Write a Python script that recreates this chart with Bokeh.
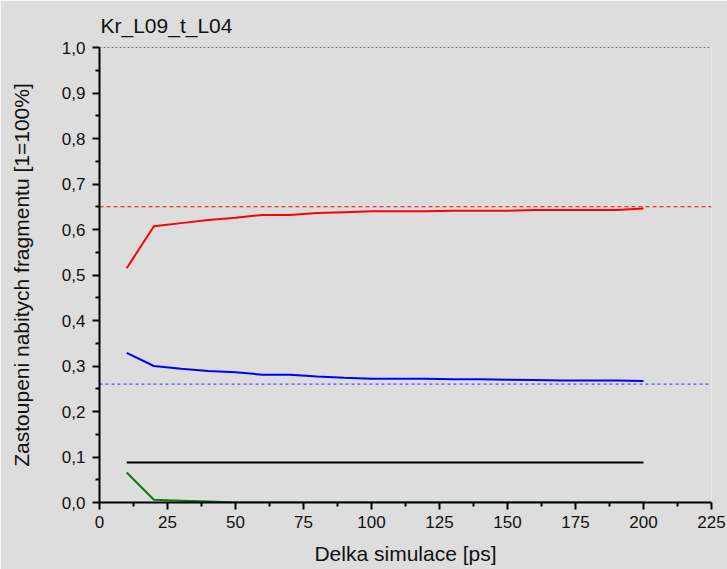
from bokeh.plotting import figure
from bokeh.models import Range1d, FixedTicker, CustomJSTickFormatter
from bokeh.embed import file_html
from bokeh.resources import INLINE

# ---- data ----
x_sim = [10, 20, 30, 40, 50, 60, 70, 80, 90, 100, 110, 120, 130, 140, 150, 160, 170, 180, 190, 200]
red_vals = [0.515, 0.607, 0.614, 0.621, 0.626, 0.632, 0.632, 0.636, 0.638, 0.640, 0.640, 0.640,
            0.641, 0.641, 0.641, 0.643, 0.643, 0.643, 0.643, 0.646]
blue_vals = [0.329, 0.300, 0.294, 0.289, 0.286, 0.281, 0.281, 0.277, 0.274, 0.272, 0.272, 0.272,
             0.271, 0.271, 0.270, 0.269, 0.268, 0.268, 0.268, 0.267]
black_vals = [0.088] * 20
green_vals = [0.066, 0.006, 0.004, 0.002, 0.0, 0.0, 0.0, 0.0, 0.0, 0.0, 0.0, 0.0,
              0.0, 0.0, 0.0, 0.0, 0.0, 0.0, 0.0, 0.0]
ref_x = [0, 225]
ref_red = 0.65
ref_blue = 0.26
ref_black = 1.0
x_ticks = [0, 25, 50, 75, 100, 125, 150, 175, 200, 225]
x_minor = [12.5, 37.5, 62.5, 87.5, 112.5, 137.5, 162.5, 187.5, 212.5]
y_ticks = [0.0, 0.1, 0.2, 0.3, 0.4, 0.5, 0.6, 0.7, 0.8, 0.9, 1.0]
y_minor = [0.05, 0.15, 0.25, 0.35, 0.45, 0.55, 0.65, 0.75, 0.85, 0.95]

BG = "#dddddd"
FONT = "Liberation Sans"

p = figure(width=727, height=569, output_backend="svg", toolbar_location=None,
           x_range=Range1d(0, 225), y_range=Range1d(0, 1.0),
           title="Kr_L09_t_L04",
           min_border_left=99, min_border_right=16, min_border_top=47, min_border_bottom=67)
p.background_fill_color = BG
p.border_fill_color = BG
p.outline_line_color = None
p.xgrid.visible = False
p.ygrid.visible = False

p.title.text_font = FONT
p.title.text_font_size = "21px"
p.title.text_font_style = "normal"
p.title.text_color = "#111111"
p.title.offset = 1
p.title.standoff = 22

for ax in (p.xaxis[0], p.yaxis[0]):
    ax.axis_line_color = "black"
    ax.axis_line_width = 2
    ax.major_tick_line_color = "black"
    ax.major_tick_line_width = 2
    ax.minor_tick_line_color = "black"
    ax.minor_tick_line_width = 2
    ax.major_tick_in = 0
    ax.major_tick_out = 7
    ax.minor_tick_in = 0
    ax.minor_tick_out = 4
    ax.major_label_text_font = FONT
    ax.major_label_text_font_size = "17px"
    ax.major_label_text_color = "#111111"
    ax.axis_label_text_font = FONT
    ax.axis_label_text_font_size = "21px"
    ax.axis_label_text_font_style = "normal"
    ax.axis_label_text_color = "#111111"

p.xaxis[0].ticker = FixedTicker(ticks=x_ticks, minor_ticks=x_minor)
p.yaxis[0].ticker = FixedTicker(ticks=y_ticks, minor_ticks=y_minor)
p.yaxis[0].formatter = CustomJSTickFormatter(code="return tick.toFixed(1).replace('.', ',');")
p.xaxis[0].axis_label = "Delka simulace [ps]"
p.yaxis[0].axis_label = "Zastoupeni nabitych fragmentu [1=100%]"
p.xaxis[0].major_label_standoff = 6
p.yaxis[0].major_label_standoff = 7
p.xaxis[0].axis_label_standoff = 11
p.yaxis[0].axis_label_standoff = 26

# reference lines
p.line(ref_x, [ref_black, ref_black], line_color="black", line_width=1, line_dash="2 2")
p.line(ref_x, [ref_red, ref_red], line_color="red", line_width=1.2, line_dash="4 3")
p.line(ref_x, [ref_blue, ref_blue], line_color="#4a4aff", line_width=1.3, line_dash="3 3")

# series
p.line(x_sim, black_vals, line_color="black", line_width=2)
p.line(x_sim, green_vals, line_color="green", line_width=2)
p.line(x_sim, red_vals, line_color="red", line_width=2)
p.line(x_sim, blue_vals, line_color="blue", line_width=2)

open("out.html", "w").write(file_html(p, INLINE))
